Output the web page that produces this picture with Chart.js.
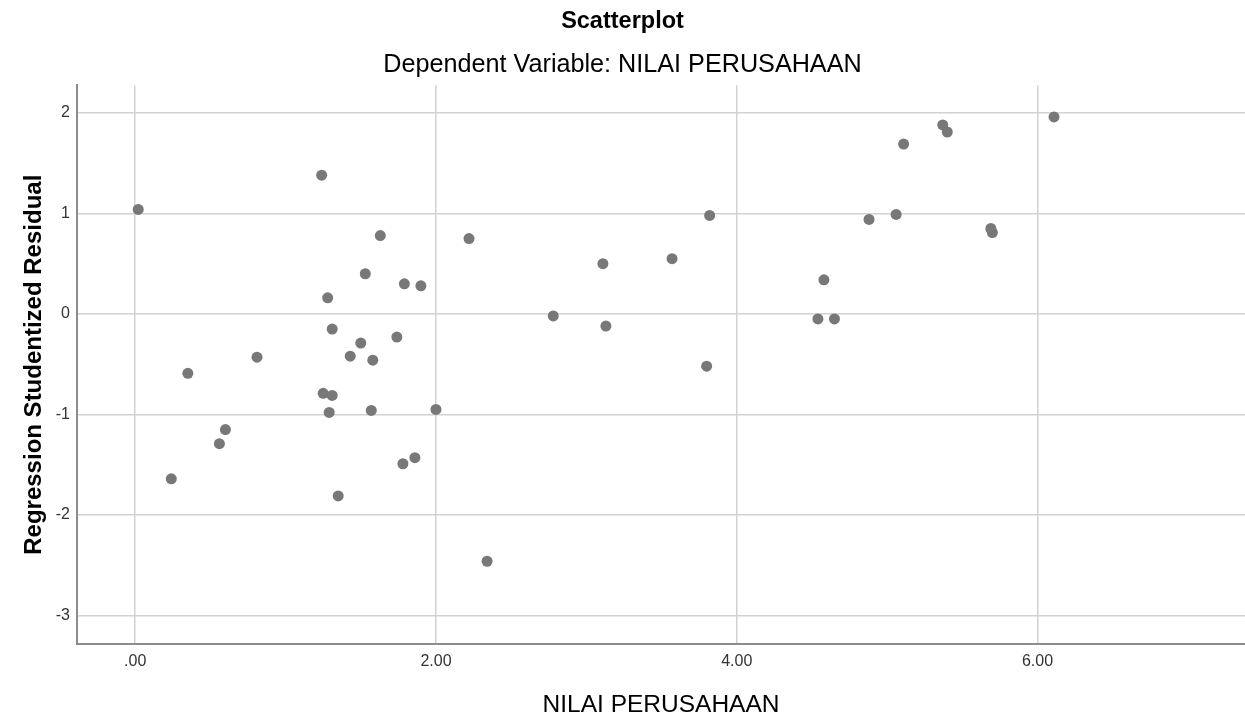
<!DOCTYPE html>
<html>
<head>
<meta charset="utf-8">
<title>Scatterplot</title>
<script src="https://cdn.jsdelivr.net/npm/chart.js@4.4.1/dist/chart.umd.min.js"></script>
<style>
  html, body { margin: 0; padding: 0; background: #fff; }
  #wrap { width: 1245px; height: 717px; }
</style>
</head>
<body>
<div id="wrap"><canvas id="chartScatter" width="1245" height="717"></canvas></div>
<script>
// NILAI PERUSAHAAN (x) vs Regression Studentized Residual (y)
const nilaiPerusahaan = [
    0.02, 1.24, 1.63, 1.53, 1.79, 1.90, 1.28, 1.31, 1.50, 1.74,
    0.81, 1.43, 1.58, 0.35, 1.25, 1.31, 1.29, 1.57, 0.60, 0.56,
    0.24, 1.35, 1.78, 1.86, 2.00, 2.34, 3.80, 2.22, 2.78, 3.11,
    3.13, 3.57, 3.82, 4.58, 4.54, 4.65, 6.11, 5.37, 5.40, 5.11,
    4.88, 5.06, 5.69, 5.70
];
const studentizedResidual = [
    1.04, 1.38, 0.78, 0.40, 0.30, 0.28, 0.16, -0.15, -0.29, -0.23,
    -0.43, -0.42, -0.46, -0.59, -0.79, -0.81, -0.98, -0.96, -1.15, -1.29,
    -1.64, -1.81, -1.49, -1.43, -0.95, -2.46, -0.52, 0.75, -0.02, 0.50,
    -0.12, 0.55, 0.98, 0.34, -0.05, -0.05, 1.96, 1.88, 1.81, 1.69,
    0.94, 0.99, 0.85, 0.81
];

const xTicks = [0, 2, 4, 6];
const yTicks = [-3, -2, -1, 0, 1, 2];

let points = nilaiPerusahaan.map(function (x, i) {
    return { x: x, y: studentizedResidual[i] };
});

Chart.defaults.font.family = "'Liberation Sans', Arial, sans-serif";
Chart.defaults.color = '#333';

let data = {
    datasets: [{
        label: 'Residual',
        data: points,
        backgroundColor: '#787878',
        borderColor: '#787878',
        borderWidth: 0,
        pointRadius: 5.5,
        pointHoverRadius: 5.5
    }]
};

let options = {
    responsive: false,
    animation: false,
    devicePixelRatio: 1,
    // grid runs right up to the canvas edge, so no room kept for point radius
    layout: { padding: 0, autoPadding: false },
    scales: {
        x: {
            type: 'linear',
            min: -0.387,
            max: 7.38,
            afterFit: function (scale) {
                scale.height = 73;
                scale.paddingLeft = 0;
                scale.paddingRight = 0;
            },
            afterBuildTicks: function (scale) {
                scale.ticks = xTicks.map(function (v) { return { value: v }; });
            },
            ticks: {
                padding: 8,
                font: { size: 16 },
                color: '#333',
                callback: function (v) {
                    return v === 0 ? '.00' : v.toFixed(2);
                }
            },
            grid: {
                color: '#d2d2d2',
                lineWidth: 1.5,
                drawTicks: false
            },
            border: { display: true, color: '#8c8c8c', width: 2 },
            title: {
                display: true,
                text: 'NILAI PERUSAHAAN',
                color: '#000',
                font: { size: 24.5, lineHeight: 1 },
                padding: { top: 0, bottom: 0 }
            }
        },
        y: {
            type: 'linear',
            min: -3.283,
            max: 2.273,
            afterFit: function (scale) { scale.width = 77; },
            afterBuildTicks: function (scale) {
                scale.ticks = yTicks.map(function (v) { return { value: v }; });
            },
            ticks: {
                padding: 7,
                font: { size: 16 },
                color: '#333',
                callback: function (v) { return String(v); }
            },
            grid: {
                color: '#d2d2d2',
                lineWidth: 1.5,
                drawTicks: false
            },
            border: { display: true, color: '#8c8c8c', width: 2 },
            title: {
                display: true,
                text: 'Regression Studentized Residual',
                color: '#000',
                font: { size: 24, weight: 'bold', lineHeight: 1.2 },
                padding: { top: 20, bottom: 0 }
            }
        }
    },
    plugins: {
        legend: { display: false },
        tooltip: { enabled: false },
        title: {
            display: true,
            text: 'Scatterplot',
            color: '#000',
            font: { size: 23.5, weight: 'bold', lineHeight: 1.2 },
            padding: { top: 7, bottom: 7 }
        },
        subtitle: {
            display: true,
            text: 'Dependent Variable: NILAI PERUSAHAAN',
            color: '#000',
            font: { size: 25.2, lineHeight: 1.2 },
            padding: { top: 8, bottom: 5 }
        }
    }
};

const ctx = document.getElementById('chartScatter').getContext('2d');
const scatterChart = new Chart(ctx, {
    type: 'scatter',
    data: data,
    options: options
});
</script>
</body>
</html>
